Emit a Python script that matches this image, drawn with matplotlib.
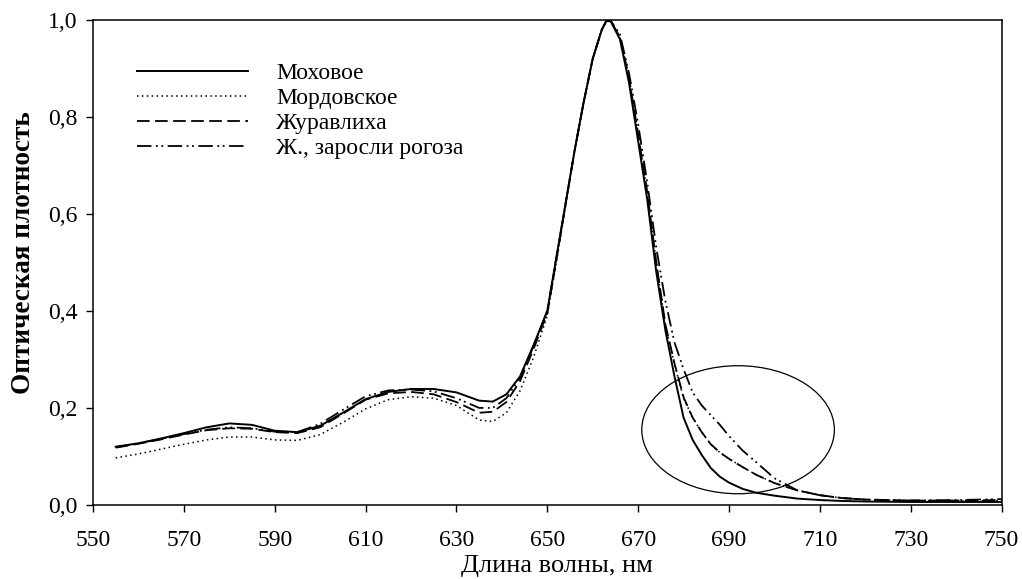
import matplotlib
matplotlib.use('Agg')
from matplotlib import pyplot as plt
from matplotlib.patches import Ellipse

plt.rcParams['font.family'] = ['Liberation Serif', 'DejaVu Serif']

############################## data ##############################
wavelength = [555, 560, 565, 570, 575, 580, 585, 590, 595, 600, 605, 610, 615, 620, 625,
              630, 635, 638, 641, 644, 647, 650, 652, 654, 656, 658, 660, 662, 663, 664,
              666, 668, 670, 672, 674, 676, 678, 680, 682, 684, 686, 688, 690, 693, 696,
              700, 705, 710, 715, 720, 730, 740, 750]

mokhovoe = [0.120, 0.127, 0.137, 0.148, 0.160, 0.168, 0.165, 0.153, 0.150, 0.163, 0.190, 0.218,
            0.233, 0.239, 0.239, 0.232, 0.215, 0.213, 0.228, 0.265, 0.330, 0.400, 0.510, 0.620,
            0.730, 0.830, 0.920, 0.980, 0.998, 0.997, 0.960, 0.870, 0.750, 0.630, 0.480, 0.360,
            0.265, 0.180, 0.134, 0.103, 0.076, 0.058, 0.046, 0.033, 0.025, 0.019, 0.013, 0.010,
            0.008, 0.007, 0.006, 0.006, 0.006]

mordovskoe = [0.097, 0.105, 0.115, 0.125, 0.134, 0.140, 0.140, 0.134, 0.133, 0.145, 0.170, 0.198,
              0.217, 0.223, 0.220, 0.205, 0.175, 0.172, 0.190, 0.235, 0.305, 0.390, 0.500, 0.615,
              0.730, 0.830, 0.920, 0.980, 0.998, 0.997, 0.965, 0.880, 0.765, 0.645, 0.500, 0.370,
              0.290, 0.220, 0.180, 0.150, 0.125, 0.108, 0.095, 0.078, 0.062, 0.045, 0.030, 0.020,
              0.014, 0.011, 0.009, 0.008, 0.009]

zhuravlikha = [0.118, 0.126, 0.135, 0.145, 0.154, 0.158, 0.157, 0.150, 0.148, 0.160, 0.188, 0.217,
               0.230, 0.233, 0.228, 0.212, 0.190, 0.192, 0.212, 0.255, 0.322, 0.395, 0.505, 0.618,
               0.730, 0.830, 0.920, 0.980, 0.998, 0.997, 0.965, 0.880, 0.765, 0.645, 0.500, 0.372,
               0.292, 0.222, 0.180, 0.150, 0.125, 0.108, 0.095, 0.078, 0.062, 0.045, 0.030, 0.020,
               0.014, 0.011, 0.009, 0.009, 0.010]

rogoz = [0.119, 0.127, 0.136, 0.146, 0.155, 0.160, 0.158, 0.151, 0.150, 0.167, 0.196, 0.224,
         0.236, 0.238, 0.234, 0.220, 0.200, 0.200, 0.220, 0.262, 0.328, 0.400, 0.510, 0.620,
         0.730, 0.830, 0.920, 0.980, 0.998, 0.998, 0.970, 0.890, 0.785, 0.665, 0.530, 0.420,
         0.335, 0.280, 0.232, 0.205, 0.185, 0.165, 0.142, 0.112, 0.088, 0.055, 0.030, 0.020,
         0.014, 0.011, 0.009, 0.010, 0.012]

labels = ['Моховое', 'Мордовское', 'Журавлиха', 'Ж., заросли рогоза']

xticks = [550, 570, 590, 610, 630, 650, 670, 690, 710, 730, 750]
yticks = [0.0, 0.2, 0.4, 0.6, 0.8, 1.0]
yticklabels = ['0,0', '0,2', '0,4', '0,6', '0,8', '1,0']

############################## plot ##############################
fig = plt.figure(figsize=(10.22, 5.79), dpi=100)
ax = fig.add_axes([0.091, 0.128, 0.889, 0.8375])

ax.plot(wavelength, mokhovoe, color='black', lw=1.4, linestyle='-', label=labels[0])
ax.plot(wavelength, mordovskoe, color='black', lw=1.1, linestyle=(0, (1, 2.2)), label=labels[1])
ax.plot(wavelength, zhuravlikha, color='black', lw=1.3, linestyle=(0, (7, 3)), label=labels[2])
ax.plot(wavelength, rogoz, color='black', lw=1.3, linestyle=(0, (8, 2.5, 1, 2, 1, 2.5)), label=labels[3])

# selection ellipse around the red tail
ax.add_patch(Ellipse((692, 0.155), 42.4, 0.264, fill=False, edgecolor='black', lw=0.9))

ax.set_xlim(550, 750)
ax.set_ylim(0, 1.0)
ax.set_xticks(xticks)
ax.set_yticks(yticks)
ax.set_yticklabels(yticklabels)
ax.tick_params(direction='out', length=5, width=1, labelsize=17, top=False, right=False)
ax.tick_params(axis='x', pad=13)
ax.tick_params(axis='y', pad=6)
for sp in ax.spines.values():
    sp.set_linewidth(1.1)

ax.set_xlabel('Длина волны, нм', fontsize=19)
ax.xaxis.set_label_coords(0.5105, -0.104)
ax.set_ylabel('Оптическая плотность', fontsize=19.5, fontweight='bold')
ax.yaxis.set_label_coords(-0.063, 0.52)

ax.legend(loc='upper left', bbox_to_anchor=(0.048, 0.912), frameon=False, fontsize=17,
          handlelength=4.7, handletextpad=1.2, labelspacing=0.15,
          borderpad=0, borderaxespad=0)

plt.savefig('out.png', dpi=100)
